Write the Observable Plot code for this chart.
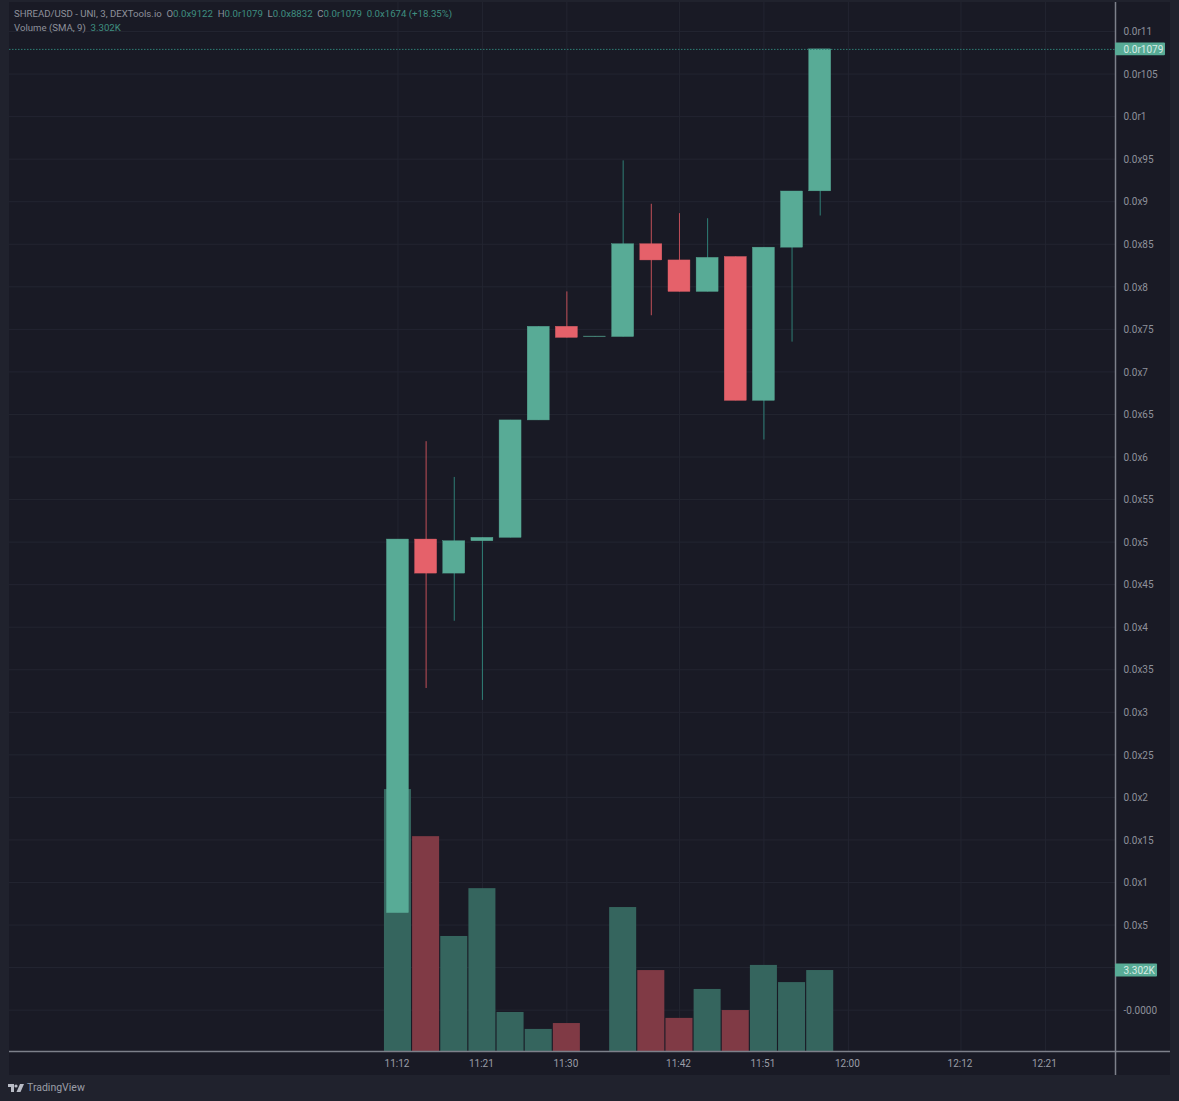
<!DOCTYPE html>
<html><head><meta charset="utf-8">
<script src="https://cdn.jsdelivr.net/npm/d3@7"></script>
<script src="https://cdn.jsdelivr.net/npm/@observablehq/plot@0.6"></script>
<style>
html,body{margin:0;padding:0;background:#20222d;width:1179px;height:1101px;overflow:hidden}
#wrap{position:absolute;left:9px;top:2px}
#head{position:absolute;left:14px;top:7px;font:9.65px/14px Roboto,sans-serif;color:#8e919b;white-space:pre;z-index:2}
#head .g{color:#3f8f80}
#logo{position:absolute;left:8px;top:1081px;font:10.5px/14px Roboto,sans-serif;color:#9b9ea8;display:flex;align-items:center;gap:3px}
svg{display:block}
</style></head><body>
<div id="wrap"></div>
<div id="head">SHREAD/USD - UNI, 3, DEXTools.io  O<span class="g">0.0x9122</span>  H<span class="g">0.0r1079</span>  L<span class="g">0.0x8832</span>  C<span class="g">0.0r1079</span>  <span class="g">0.0x1674 (+18.35%)</span>
Volume (SMA, 9)  <span class="g">3.302K</span></div>
<div id="logo"><svg width="16" height="9" viewBox="0 0 32 18"><path fill="#b9bcc6" d="M0 0h12v16H6V6H0z"/><circle fill="#b9bcc6" cx="16" cy="4" r="3.2"/><path fill="#b9bcc6" d="M24 0h8l-7 16h-8z"/></svg><span>TradingView</span></div>
<script>
const times   = ["11:12","11:15","11:18","11:21","11:24","11:27","11:30","11:33","11:36","11:39","11:42","11:45","11:48","11:51","11:54","11:57"];
const opens   = [6.4,50.3,46.3,50.1,50.5,64.3,75.3,74.1,74.1,85.0,83.1,79.4,83.5,66.6,84.6,91.22];
const closes  = [50.3,46.3,50.1,50.5,64.3,75.3,74.0,74.15,85.0,83.1,79.4,83.4,66.6,84.6,91.2,107.9];
const highs   = [50.3,61.8,57.6,50.5,64.3,75.3,79.4,74.15,94.8,89.7,88.6,88.0,83.5,84.6,91.2,107.9];
const lows    = [6.4,32.8,40.7,31.4,50.5,64.3,74.0,74.1,74.1,76.6,79.4,79.4,66.6,62.0,73.5,88.32];
const volumesK= [10.68,8.76,4.69,6.64,1.59,0.90,1.14,0,5.87,3.30,1.35,2.53,1.67,3.51,2.81,3.302];
const xTicks  = ["11:12","11:21","11:30","11:42","11:51","12:00","12:12","12:21"];
const yTicks  = [110,105,100,95,90,85,80,75,70,65,60,55,50,45,40,35,30,25,20,15,10,5,-5];
const yLabels = ["0.0r11","0.0r105","0.0r1","0.0x95","0.0x9","0.0x85","0.0x8","0.0x75","0.0x7","0.0x65","0.0x6","0.0x55","0.0x5","0.0x45","0.0x4","0.0x35","0.0x3","0.0x25","0.0x2","0.0x15","0.0x1","0.0x5","-0.0000"];
const yGrid   = [110,105,100,95,90,85,80,75,70,65,60,55,50,45,40,35,30,25,20,15,10,5,0,-5];
const lastPrice = 107.9, lastVolumeK = 3.302;

const T = s => { const [h,m] = s.split(":").map(Number); return new Date(Date.UTC(2023,0,1,h,m)); };
const add = (d,min) => new Date(+d + min*60000);
const xDomain = [add(T("11:12"),-41.4), add(T("11:12"),76.47)];
const yMin = -9.86, yMax = 113.41;
const volScale = 2.882;               // price units per 1K of volume in the overlaid pane
const UP="#58ab96", DOWN="#e5616a", VUP="#35655e", VDOWN="#803a45";

const rows = times.map((t,i)=>({t:T(t),o:opens[i],c:closes[i],h:highs[i],l:lows[i],v:volumesK[i],up:closes[i]>=opens[i]}));
const tickLabel = new Map(yTicks.map((v,i)=>[v,yLabels[i]]));
const badgeEnd1 = add(xDomain[1],5.33), badgeEnd2 = add(xDomain[1],4.48);

const chart = Plot.plot({
  width:1161, height:1073, marginLeft:0, marginRight:55, marginTop:0, marginBottom:24,
  style:{background:"#191a25",color:"#8e919b",fontFamily:"Roboto,sans-serif",fontSize:"10px"},
  x:{type:"utc",domain:xDomain},
  y:{type:"linear",domain:[yMin,yMax]},
  marks:[
    Plot.gridY(yGrid,{stroke:"#232531",strokeOpacity:1,x1:xDomain[0],x2:xDomain[1]}),
    Plot.gridX(xTicks.map(T),{stroke:"#232531",strokeOpacity:1}),
    Plot.rect(rows.filter(d=>d.v>0),{x1:d=>add(d.t,-1.44),x2:d=>add(d.t,1.44),y1:yMin,y2:d=>yMin+d.v*volScale,fill:d=>d.up?VUP:VDOWN}),
    Plot.ruleX(rows,{x:"t",y1:"l",y2:"h",stroke:d=>d.up?"#2f7f76":"#c04f58",strokeWidth:1}),
    Plot.rect(rows,{x1:d=>add(d.t,-1.17),x2:d=>add(d.t,1.17),y1:"o",y2:"c",fill:d=>d.up?UP:DOWN,stroke:d=>d.up?UP:DOWN,strokeWidth:0.4}),
    Plot.ruleY([lastPrice],{x1:xDomain[0],x2:xDomain[1],stroke:"#2f7f76",strokeWidth:1,strokeDasharray:"1.5,1.5"}),
    Plot.ruleY([yMin],{x1:xDomain[0],x2:add(xDomain[1],5.86),stroke:"#7d808a",strokeWidth:1.5}),
    Plot.ruleX([xDomain[1]],{y1:yMax,y2:yMin-2.82,stroke:"#7d808a",strokeWidth:1.5}),
    Plot.axisX({ticks:xTicks.map(T),tickFormat:d3.utcFormat("%H:%M"),tickSize:0,tickPadding:8,dx:-1,label:null,fill:"#9a9da7",fontSize:10}),
    Plot.axisY({anchor:"right",ticks:yTicks,tickFormat:v=>tickLabel.get(v),tickSize:0,tickPadding:8,dy:0.5,label:null,fill:"#8e919b",fontSize:10}),
    Plot.rect([lastPrice],{x1:xDomain[1],x2:badgeEnd1,y1:d=>d-0.76,y2:d=>d+0.76,fill:UP,rx:1}),
    Plot.text([lastPrice],{x:xDomain[1],y:d=>d,text:()=>"0.0r1079",dx:8,textAnchor:"start",fill:"#d8ece6",fontSize:10}),
    Plot.rect([lastVolumeK],{x1:xDomain[1],x2:badgeEnd2,y1:d=>yMin+d*volScale-0.76,y2:d=>yMin+d*volScale+0.76,fill:UP,rx:1}),
    Plot.text([lastVolumeK],{x:xDomain[1],y:d=>yMin+d*volScale,text:()=>"3.302K",dx:8,textAnchor:"start",fill:"#d8ece6",fontSize:10})
  ]
});
document.getElementById("wrap").append(chart);
</script>
</body></html>
